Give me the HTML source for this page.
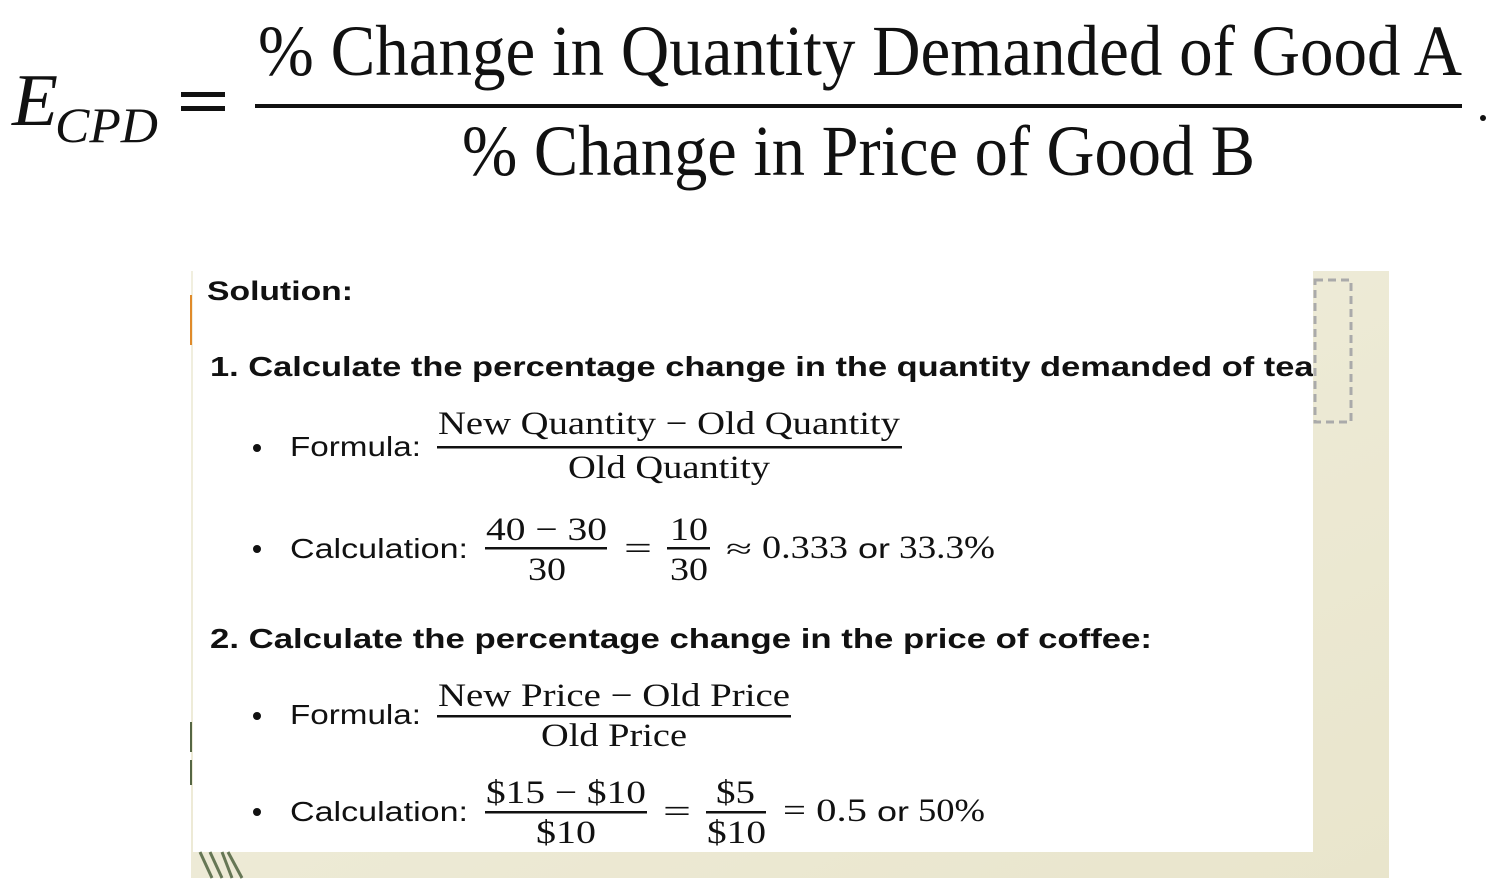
<!DOCTYPE html>
<html><head><meta charset="utf-8"><style>html,body{margin:0;padding:0;background:#fff}svg{display:block}</style></head><body>
<svg width="1497" height="891" viewBox="0 0 1497 891" xmlns="http://www.w3.org/2000/svg">
<defs><linearGradient id="bg" x1="0" y1="0" x2="1" y2="1"><stop offset="0" stop-color="#f1efdf"/><stop offset="1" stop-color="#e9e5cc"/></linearGradient></defs>
<rect width="1497" height="891" fill="#fff"/>
<g font-family="'Liberation Serif',serif" fill="#111">
<text x="12" y="125" font-size="74" font-style="italic" textLength="46" lengthAdjust="spacingAndGlyphs">E</text>
<text x="55" y="142" font-size="50" font-style="italic" textLength="103" lengthAdjust="spacingAndGlyphs">CPD</text>
<rect x="181" y="92" width="44" height="5"/><rect x="181" y="106" width="44" height="5"/>
<text x="258" y="75" font-size="72" textLength="1204" lengthAdjust="spacingAndGlyphs">% Change in Quantity Demanded of Good A</text>
<rect x="255" y="104" width="1207" height="4"/>
<text x="462" y="175" font-size="72" textLength="793" lengthAdjust="spacingAndGlyphs">% Change in Price of Good B</text>
<circle cx="1483" cy="118" r="3"/>
</g>
<rect x="191" y="271" width="1198" height="607" fill="url(#bg)"/>
<rect x="193" y="271" width="1120" height="581" fill="#fff"/>
<rect x="1315" y="280" width="36" height="142" fill="none" stroke="#aaa" stroke-width="3" stroke-dasharray="8,5"/>
<rect x="190" y="295" width="2" height="50" fill="#e08a2a"/>
<rect x="190" y="722" width="2" height="30" fill="#556644"/>
<rect x="190" y="760" width="2" height="25" fill="#556644"/>
<g stroke="#667755" stroke-width="3"><line x1="200" y1="852" x2="212" y2="878"/><line x1="210" y1="852" x2="222" y2="878"/><line x1="222" y1="852" x2="232" y2="878"/><line x1="228" y1="852" x2="242" y2="878"/></g>
<svg x="193" y="271" width="1120" height="581" viewBox="193 271 1120 581" overflow="hidden">
<g font-family="'Liberation Sans',sans-serif" fill="#111">
<text x="207" y="300" font-size="27" font-weight="bold" textLength="146" lengthAdjust="spacingAndGlyphs">Solution:</text>
<text x="210" y="376" font-size="28" font-weight="bold" textLength="1115" lengthAdjust="spacingAndGlyphs">1. Calculate the percentage change in the quantity demanded of tea:</text>
<circle cx="257" cy="448" r="4"/><text x="290" y="456" font-size="28" textLength="131" lengthAdjust="spacingAndGlyphs">Formula:</text>
<circle cx="257" cy="549" r="4"/><text x="290" y="558" font-size="28" textLength="178" lengthAdjust="spacingAndGlyphs">Calculation:</text>
<text x="210" y="648" font-size="28" font-weight="bold" textLength="942" lengthAdjust="spacingAndGlyphs">2. Calculate the percentage change in the price of coffee:</text>
<circle cx="257" cy="716" r="4"/><text x="290" y="724" font-size="28" textLength="131" lengthAdjust="spacingAndGlyphs">Formula:</text>
<circle cx="257" cy="812" r="4"/><text x="290" y="821" font-size="28" textLength="178" lengthAdjust="spacingAndGlyphs">Calculation:</text>
</g>
<g font-family="'Liberation Serif',serif" fill="#111" font-size="33">
<text x="438" y="434" textLength="462" lengthAdjust="spacingAndGlyphs">New Quantity − Old Quantity</text>
<rect x="437" y="446" width="465" height="2.5"/>
<text x="568" y="478" textLength="202" lengthAdjust="spacingAndGlyphs">Old Quantity</text>
<text x="486" y="540" textLength="121" lengthAdjust="spacingAndGlyphs">40 − 30</text>
<rect x="485" y="547" width="122" height="2.5"/>
<text x="528" y="580" textLength="38" lengthAdjust="spacingAndGlyphs">30</text>
<text x="624" y="559" textLength="28" lengthAdjust="spacingAndGlyphs">=</text>
<text x="670" y="540" textLength="38" lengthAdjust="spacingAndGlyphs">10</text>
<rect x="667" y="547" width="43" height="2.5"/>
<text x="670" y="580" textLength="38" lengthAdjust="spacingAndGlyphs">30</text>
<text x="726" y="558" font-size="28" textLength="26" lengthAdjust="spacingAndGlyphs">≈</text>
<text x="762" y="558" textLength="86" lengthAdjust="spacingAndGlyphs">0.333</text>
<text x="858" y="558" font-family="'Liberation Sans',sans-serif" font-size="28" textLength="32" lengthAdjust="spacingAndGlyphs">or</text>
<text x="899" y="558" textLength="96" lengthAdjust="spacingAndGlyphs">33.3%</text>
<text x="438" y="706" textLength="352" lengthAdjust="spacingAndGlyphs">New Price − Old Price</text>
<rect x="437" y="715" width="354" height="2.5"/>
<text x="541" y="746" textLength="146" lengthAdjust="spacingAndGlyphs">Old Price</text>
<text x="486" y="803" textLength="160" lengthAdjust="spacingAndGlyphs">$15 − $10</text>
<rect x="485" y="811" width="162" height="2.5"/>
<text x="536" y="843" textLength="60" lengthAdjust="spacingAndGlyphs">$10</text>
<text x="663" y="822" textLength="28" lengthAdjust="spacingAndGlyphs">=</text>
<text x="716" y="803" textLength="39" lengthAdjust="spacingAndGlyphs">$5</text>
<rect x="706" y="811" width="60" height="2.5"/>
<text x="707" y="843" textLength="59" lengthAdjust="spacingAndGlyphs">$10</text>
<text x="783" y="821" textLength="84" lengthAdjust="spacingAndGlyphs">= 0.5</text>
<text x="877" y="821" font-family="'Liberation Sans',sans-serif" font-size="28" textLength="32" lengthAdjust="spacingAndGlyphs">or</text>
<text x="918" y="821" textLength="67" lengthAdjust="spacingAndGlyphs">50%</text>
</g>
</svg>
</svg>
</body></html>
